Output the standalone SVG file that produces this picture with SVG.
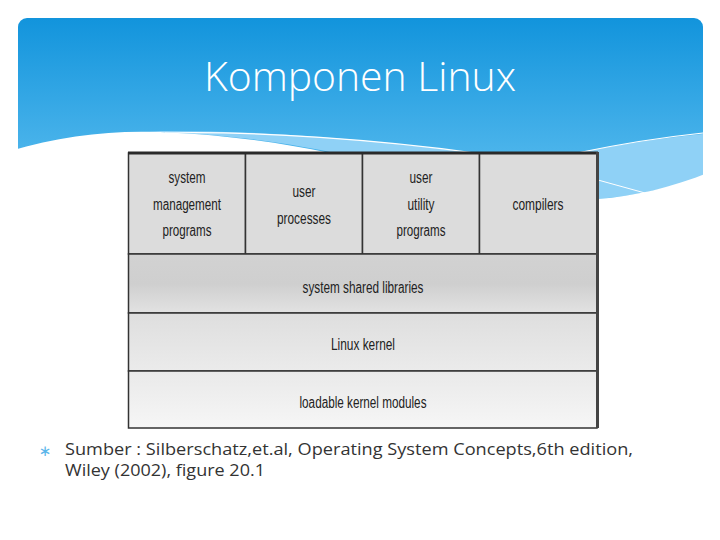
<svg xmlns="http://www.w3.org/2000/svg" width="720" height="540" viewBox="0 0 720 540">
<defs>
<linearGradient id="hdr" x1="0" y1="0" x2="0" y2="1">
<stop offset="0" stop-color="#1294dc"/>
<stop offset="1" stop-color="#62c1f1"/>
</linearGradient>
<linearGradient id="g2" x1="0" y1="0" x2="0" y2="1">
<stop offset="0" stop-color="#d2d2d2"/>
<stop offset="0.5" stop-color="#cfcfcf"/>
<stop offset="1" stop-color="#e2e2e2"/>
</linearGradient>
<linearGradient id="g3" x1="0" y1="0" x2="0" y2="1">
<stop offset="0" stop-color="#dedede"/>
<stop offset="1" stop-color="#ebebeb"/>
</linearGradient>
<linearGradient id="g4" x1="0" y1="0" x2="0" y2="1">
<stop offset="0" stop-color="#e9e9e9"/>
<stop offset="1" stop-color="#f6f6f6"/>
</linearGradient>
<style>
.lbl{font-family:"Liberation Sans",Arial,sans-serif;font-size:16px;fill:#222;text-anchor:middle}
.cell{stroke:#333;stroke-width:1.5}
.src{font-family:"Open Sans","Noto Sans",sans-serif;font-size:16.5px;fill:#333}
</style>
</defs>
<rect width="720" height="540" fill="#ffffff"/>
<g id="header">
<rect x="18" y="18" width="685" height="190" rx="9" fill="url(#hdr)"/>
<path d="M150,131 C260,130 380,140 480,154 L340,154 C300,146 250,136 160,132 Z" fill="#8fd1f6"/>
<path d="M560,156 C610,146 660,138 703,134 L703,176 C670,188 640,195 598,199 L560,199 Z" fill="#8fd1f6"/>
<path d="M10,151 C60,136 110,130 160,132 C230,135 280,143 330,153 L598,153 L598,199 C635,196 670,188 710,172 L710,215 L10,215 Z" fill="#ffffff"/>
<path d="M165,133 C260,131 380,140 475,153" fill="none" stroke="#ffffff" stroke-width="1.2"/>
<path d="M577,153 C620,144 665,137 703,133" fill="none" stroke="#ffffff" stroke-width="1.2"/>
<path d="M598,180 L645,193" fill="none" stroke="#ffffff" stroke-width="1"/>
<text x="360" y="91" text-anchor="middle" font-family="'Open Sans','Noto Sans',sans-serif" font-weight="300" font-size="40" fill="#ffffff" textLength="312" lengthAdjust="spacingAndGlyphs">Komponen Linux</text>
</g>
<g id="diagram">
<g id="n-sysmgmt">
<rect class="cell" x="128.5" y="153" width="117" height="101" fill="#dcdcdc"/>
<text class="lbl" x="187" y="183" textLength="37" lengthAdjust="spacingAndGlyphs">system</text>
<text class="lbl" x="187" y="210" textLength="68" lengthAdjust="spacingAndGlyphs">management</text>
<text class="lbl" x="187" y="236" textLength="49" lengthAdjust="spacingAndGlyphs">programs</text>
</g>
<g id="n-userproc">
<rect class="cell" x="245.5" y="153" width="117" height="101" fill="#dcdcdc"/>
<text class="lbl" x="304" y="197" textLength="23" lengthAdjust="spacingAndGlyphs">user</text>
<text class="lbl" x="304" y="224" textLength="54" lengthAdjust="spacingAndGlyphs">processes</text>
</g>
<g id="n-userutil">
<rect class="cell" x="362.5" y="153" width="117" height="101" fill="#dcdcdc"/>
<text class="lbl" x="421" y="183" textLength="23" lengthAdjust="spacingAndGlyphs">user</text>
<text class="lbl" x="421" y="210" textLength="27" lengthAdjust="spacingAndGlyphs">utility</text>
<text class="lbl" x="421" y="236" textLength="49" lengthAdjust="spacingAndGlyphs">programs</text>
</g>
<g id="n-compilers">
<rect class="cell" x="479.5" y="153" width="117.5" height="101" fill="#dcdcdc"/>
<text class="lbl" x="538" y="210" textLength="51" lengthAdjust="spacingAndGlyphs">compilers</text>
</g>
<g id="n-libs">
<rect class="cell" x="128.5" y="254" width="468.5" height="59" fill="url(#g2)"/>
<text class="lbl" x="363" y="293" textLength="121" lengthAdjust="spacingAndGlyphs">system shared libraries</text>
</g>
<g id="n-kernel">
<rect class="cell" x="128.5" y="313" width="468.5" height="58" fill="url(#g3)"/>
<text class="lbl" x="363" y="350" textLength="64" lengthAdjust="spacingAndGlyphs">Linux kernel</text>
</g>
<g id="n-modules">
<rect class="cell" x="128.5" y="371" width="468.5" height="57" fill="url(#g4)"/>
<text class="lbl" x="363" y="408" textLength="127" lengthAdjust="spacingAndGlyphs">loadable kernel modules</text>
</g>
<line x1="128" y1="153" x2="598" y2="153" stroke="#2a2a2a" stroke-width="3"/>
<line x1="597.5" y1="152" x2="597.5" y2="428" stroke="#444" stroke-width="3"/>
</g>
<g id="source">
<text x="45" y="456" font-family="'DejaVu Sans',sans-serif" font-size="15" fill="#5ab6ea" text-anchor="middle">∗</text>
<text class="src" x="65" y="455" textLength="568" lengthAdjust="spacingAndGlyphs">Sumber : Silberschatz,et.al, Operating System Concepts,6th edition,</text>
<text class="src" x="65" y="476" textLength="200" lengthAdjust="spacingAndGlyphs">Wiley (2002), figure 20.1</text>
</g>
</svg>
